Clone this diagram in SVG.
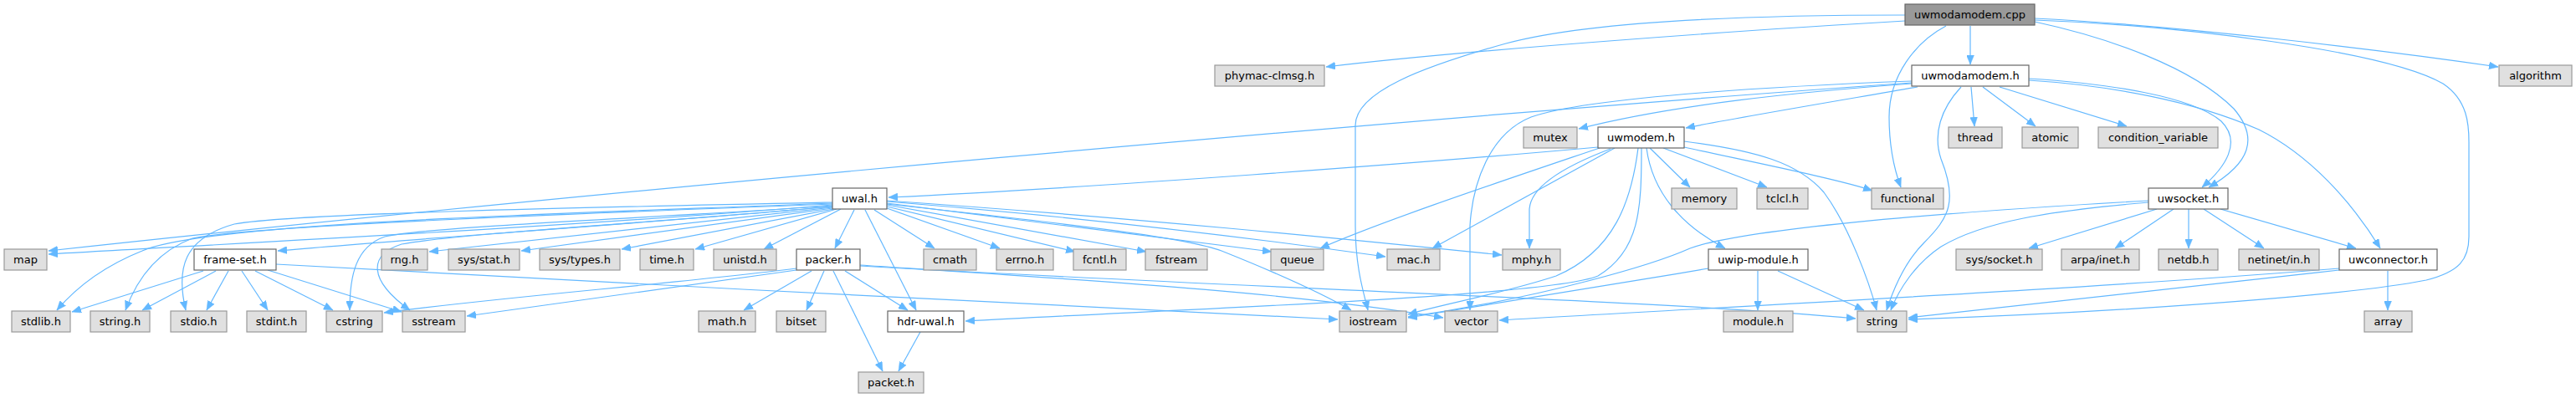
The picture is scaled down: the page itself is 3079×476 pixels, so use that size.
<svg xmlns="http://www.w3.org/2000/svg" width="3079" height="476" viewBox="0 0 3079 476">
<defs>
<marker id="ah" markerUnits="userSpaceOnUse" markerWidth="11" markerHeight="9" refX="11" refY="4.5" orient="auto"><path d="M0,0 L11,4.5 L0,9 z" fill="#63b8ff" stroke="#63b8ff" stroke-width="0.5"/></marker>
<style>
.n rect{stroke-width:1.2}
.ext rect{fill:#e0e0e0;stroke:#999999}
.doc rect{fill:#ffffff;stroke:#666666}
.root rect{fill:#999999;stroke:#666666}
.n text{font-family:"DejaVu Sans","Liberation Sans",sans-serif;font-size:13px;text-anchor:middle;fill:#000000}
#edges path{fill:none;stroke:#63b8ff;stroke-width:1.2;marker-end:url(#ah)}
</style>
</defs>
<rect width="3079" height="476" fill="#ffffff"/>
<g id="edges">
<path d="M2277,25 C2100,35 1750,60 1585,80"/>
<path d="M2355,31 L2355,77"/>
<path d="M2277,18 C2100,18 1900,25 1800,52 C1700,80 1620,110 1620,150 L1620,270 C1620,320 1630,350 1635,371"/>
<path d="M2326,31 C2290,50 2258,90 2258,140 C2258,180 2265,205 2272,224"/>
<path d="M2432,26 C2520,45 2620,80 2670,130 C2700,165 2690,195 2640,224"/>
<path d="M2432,24 C2600,30 2850,60 2920,100 C2950,120 2951,150 2951,170 L2951,283 C2951,310 2940,325 2900,335 C2800,355 2500,375 2281,382"/>
<path d="M2432,22 C2600,30 2850,60 2986,80"/>
<path d="M2285,100 C2150,110 2000,125 1887,154"/>
<path d="M2292,104 C2200,120 2080,140 2015,153"/>
<path d="M2285,97 C2150,102 1900,115 1830,140 C1780,160 1760,220 1757,270 L1757,371"/>
<path d="M2285,99 C1700,140 700,230 58,300"/>
<path d="M2344,104 C2320,130 2310,160 2320,190 C2340,240 2330,260 2300,290 C2280,310 2265,340 2255,371"/>
<path d="M2356,104 L2360,151"/>
<path d="M2370,104 L2433,151"/>
<path d="M2390,104 L2542,151"/>
<path d="M2425,94 C2520,100 2620,115 2655,145 C2680,170 2660,200 2632,224"/>
<path d="M2425,96 C2520,102 2620,120 2700,155 C2760,185 2810,240 2845,297"/>
<path d="M1910,176 C1700,195 1300,225 1062,236"/>
<path d="M1972,177 L2020,224"/>
<path d="M1988,177 L2112,224"/>
<path d="M2013,176 C2100,195 2200,215 2238,228"/>
<path d="M2013,169 C2100,180 2150,195 2180,230 C2210,270 2235,340 2243,371"/>
<path d="M1930,177 L1712,297"/>
<path d="M1912,177 C1800,215 1650,265 1578,297"/>
<path d="M1925,178 C1880,195 1830,220 1828,250 L1828,297"/>
<path d="M1958,177 C1950,240 1930,300 1860,330 C1800,350 1720,365 1683,376"/>
<path d="M1962,177 C1962,250 1960,300 1910,330 C1850,355 1400,370 1154,384"/>
<path d="M1968,177 C1975,230 2010,270 2062,297"/>
<path d="M995,245 C700,270 300,290 58,304"/>
<path d="M995,247 C800,265 500,285 332,300"/>
<path d="M995,248 L513,301"/>
<path d="M995,249 L623,300"/>
<path d="M996,250 L743,298"/>
<path d="M1000,250 L831,298"/>
<path d="M1005,250 L913,298"/>
<path d="M1021,251 L998,297"/>
<path d="M995,243 C700,255 250,265 170,300 C120,320 90,345 68,371"/>
<path d="M995,244 C700,255 300,270 230,285 C190,300 165,330 150,371"/>
<path d="M995,242 C700,248 350,255 280,268 C220,285 210,320 222,371"/>
<path d="M995,246 C800,260 520,270 460,283 C425,295 418,330 418,371"/>
<path d="M995,247 C800,265 540,280 480,292 C440,305 440,335 490,371"/>
<path d="M1045,251 L1117,297"/>
<path d="M1060,249 L1195,297"/>
<path d="M1060,247 L1285,301"/>
<path d="M1060,245 L1370,301"/>
<path d="M1060,243 L1520,301"/>
<path d="M1060,241 C1300,260 1500,285 1656,307"/>
<path d="M1060,240 C1350,260 1600,285 1795,305"/>
<path d="M1060,244 C1300,270 1420,285 1460,300 C1510,320 1570,345 1615,371"/>
<path d="M1034,251 L1095,371"/>
<path d="M970,324 L889,371"/>
<path d="M985,324 L964,371"/>
<path d="M996,324 L1055,444"/>
<path d="M1010,324 L1085,371"/>
<path d="M952,321 C800,340 600,355 459,374"/>
<path d="M952,323 L558,378"/>
<path d="M1028,317 C1300,335 1550,350 1725,380"/>
<path d="M1028,318 C1500,345 2000,360 2218,381"/>
<path d="M243,324 L86,373"/>
<path d="M258,324 L170,371"/>
<path d="M273,324 L247,371"/>
<path d="M289,324 L320,371"/>
<path d="M305,324 L398,371"/>
<path d="M320,323 L480,373"/>
<path d="M330,316 C700,335 1300,370 1599,382"/>
<path d="M1100,397 L1074,444"/>
<path d="M2101,324 L2101,371"/>
<path d="M2125,324 L2228,371"/>
<path d="M2042,321 C1900,345 1750,370 1683,380"/>
<path d="M2568,240 C2300,255 2080,275 2020,297 C1980,315 1850,355 1683,379"/>
<path d="M2568,242 C2450,252 2370,265 2320,295 C2290,315 2270,345 2260,371"/>
<path d="M2578,250 L2425,297"/>
<path d="M2598,250 L2528,297"/>
<path d="M2616,250 L2616,297"/>
<path d="M2634,250 L2706,297"/>
<path d="M2654,250 L2816,297"/>
<path d="M2854,324 L2854,371"/>
<path d="M2796,321 C2500,345 2100,365 1792,383"/>
<path d="M2796,323 C2600,345 2400,368 2281,380"/>
</g>
<g id="n_uwmodamodem_cpp" class="n root"><rect x="2277" y="5" width="155" height="25"/><text x="2354.5" y="22">uwmodamodem.cpp</text></g>
<g id="n_phymac_clmsg_h" class="n ext"><rect x="1452" y="78" width="131" height="25"/><text x="1517.5" y="95">phymac-clmsg.h</text></g>
<g id="n_uwmodamodem_h" class="n doc"><rect x="2285" y="78" width="140" height="25"/><text x="2355" y="95">uwmodamodem.h</text></g>
<g id="n_algorithm" class="n ext"><rect x="2987" y="78" width="87" height="25"/><text x="3030.5" y="95">algorithm</text></g>
<g id="n_mutex" class="n ext"><rect x="1821" y="152" width="64" height="25"/><text x="1853" y="169">mutex</text></g>
<g id="n_uwmodem_h" class="n doc"><rect x="1910" y="152" width="103" height="25"/><text x="1961.5" y="169">uwmodem.h</text></g>
<g id="n_thread" class="n ext"><rect x="2329" y="152" width="64" height="25"/><text x="2361" y="169">thread</text></g>
<g id="n_atomic" class="n ext"><rect x="2417" y="152" width="67" height="25"/><text x="2450.5" y="169">atomic</text></g>
<g id="n_condition_variable" class="n ext"><rect x="2508" y="152" width="143" height="25"/><text x="2579.5" y="169">condition_variable</text></g>
<g id="n_uwal_h" class="n doc"><rect x="995" y="225" width="65" height="25"/><text x="1027.5" y="242">uwal.h</text></g>
<g id="n_memory" class="n ext"><rect x="1998" y="225" width="78" height="25"/><text x="2037" y="242">memory</text></g>
<g id="n_tclcl_h" class="n ext"><rect x="2100" y="225" width="61" height="25"/><text x="2130.5" y="242">tclcl.h</text></g>
<g id="n_functional" class="n ext"><rect x="2237" y="225" width="86" height="25"/><text x="2280" y="242">functional</text></g>
<g id="n_uwsocket_h" class="n doc"><rect x="2568" y="225" width="95" height="25"/><text x="2615.5" y="242">uwsocket.h</text></g>
<g id="n_map" class="n ext"><rect x="5" y="298" width="51" height="25"/><text x="30.5" y="315">map</text></g>
<g id="n_frame_set_h" class="n doc"><rect x="232" y="298" width="98" height="25"/><text x="281" y="315">frame-set.h</text></g>
<g id="n_rng_h" class="n ext"><rect x="456" y="298" width="55" height="25"/><text x="483.5" y="315">rng.h</text></g>
<g id="n_sys_stat_h" class="n ext"><rect x="536" y="298" width="85" height="25"/><text x="578.5" y="315">sys/stat.h</text></g>
<g id="n_sys_types_h" class="n ext"><rect x="645" y="298" width="96" height="25"/><text x="693" y="315">sys/types.h</text></g>
<g id="n_time_h" class="n ext"><rect x="765" y="298" width="64" height="25"/><text x="797" y="315">time.h</text></g>
<g id="n_unistd_h" class="n ext"><rect x="853" y="298" width="75" height="25"/><text x="890.5" y="315">unistd.h</text></g>
<g id="n_packer_h" class="n doc"><rect x="952" y="298" width="76" height="25"/><text x="990" y="315">packer.h</text></g>
<g id="n_cmath" class="n ext"><rect x="1104" y="298" width="63" height="25"/><text x="1135.5" y="315">cmath</text></g>
<g id="n_errno_h" class="n ext"><rect x="1191" y="298" width="68" height="25"/><text x="1225" y="315">errno.h</text></g>
<g id="n_fcntl_h" class="n ext"><rect x="1283" y="298" width="63" height="25"/><text x="1314.5" y="315">fcntl.h</text></g>
<g id="n_fstream" class="n ext"><rect x="1369" y="298" width="74" height="25"/><text x="1406" y="315">fstream</text></g>
<g id="n_queue" class="n ext"><rect x="1519" y="298" width="63" height="25"/><text x="1550.5" y="315">queue</text></g>
<g id="n_mac_h" class="n ext"><rect x="1658" y="298" width="63" height="25"/><text x="1689.5" y="315">mac.h</text></g>
<g id="n_mphy_h" class="n ext"><rect x="1796" y="298" width="69" height="25"/><text x="1830.5" y="315">mphy.h</text></g>
<g id="n_uwip_module_h" class="n doc"><rect x="2042" y="298" width="119" height="25"/><text x="2101.5" y="315">uwip-module.h</text></g>
<g id="n_sys_socket_h" class="n ext"><rect x="2338" y="298" width="103" height="25"/><text x="2389.5" y="315">sys/socket.h</text></g>
<g id="n_arpa_inet_h" class="n ext"><rect x="2464" y="298" width="93" height="25"/><text x="2510.5" y="315">arpa/inet.h</text></g>
<g id="n_netdb_h" class="n ext"><rect x="2580" y="298" width="71" height="25"/><text x="2615.5" y="315">netdb.h</text></g>
<g id="n_netinet_in_h" class="n ext"><rect x="2676" y="298" width="96" height="25"/><text x="2724" y="315">netinet/in.h</text></g>
<g id="n_uwconnector_h" class="n doc"><rect x="2796" y="298" width="117" height="25"/><text x="2854.5" y="315">uwconnector.h</text></g>
<g id="n_stdlib_h" class="n ext"><rect x="14" y="372" width="70" height="25"/><text x="49" y="389">stdlib.h</text></g>
<g id="n_string_h" class="n ext"><rect x="108" y="372" width="71" height="25"/><text x="143.5" y="389">string.h</text></g>
<g id="n_stdio_h" class="n ext"><rect x="204" y="372" width="67" height="25"/><text x="237.5" y="389">stdio.h</text></g>
<g id="n_stdint_h" class="n ext"><rect x="295" y="372" width="71" height="25"/><text x="330.5" y="389">stdint.h</text></g>
<g id="n_cstring" class="n ext"><rect x="390" y="372" width="67" height="25"/><text x="423.5" y="389">cstring</text></g>
<g id="n_sstream" class="n ext"><rect x="481" y="372" width="75" height="25"/><text x="518.5" y="389">sstream</text></g>
<g id="n_math_h" class="n ext"><rect x="835" y="372" width="68" height="25"/><text x="869" y="389">math.h</text></g>
<g id="n_bitset" class="n ext"><rect x="928" y="372" width="59" height="25"/><text x="957.5" y="389">bitset</text></g>
<g id="n_hdr_uwal_h" class="n doc"><rect x="1061" y="372" width="91" height="25"/><text x="1106.5" y="389">hdr-uwal.h</text></g>
<g id="n_iostream" class="n ext"><rect x="1601" y="372" width="80" height="25"/><text x="1641" y="389">iostream</text></g>
<g id="n_vector" class="n ext"><rect x="1727" y="372" width="63" height="25"/><text x="1758.5" y="389">vector</text></g>
<g id="n_module_h" class="n ext"><rect x="2060" y="372" width="83" height="25"/><text x="2101.5" y="389">module.h</text></g>
<g id="n_string" class="n ext"><rect x="2220" y="372" width="59" height="25"/><text x="2249.5" y="389">string</text></g>
<g id="n_array" class="n ext"><rect x="2826" y="372" width="57" height="25"/><text x="2854.5" y="389">array</text></g>
<g id="n_packet_h" class="n ext"><rect x="1026" y="445" width="78" height="25"/><text x="1065" y="462">packet.h</text></g>
</svg>
